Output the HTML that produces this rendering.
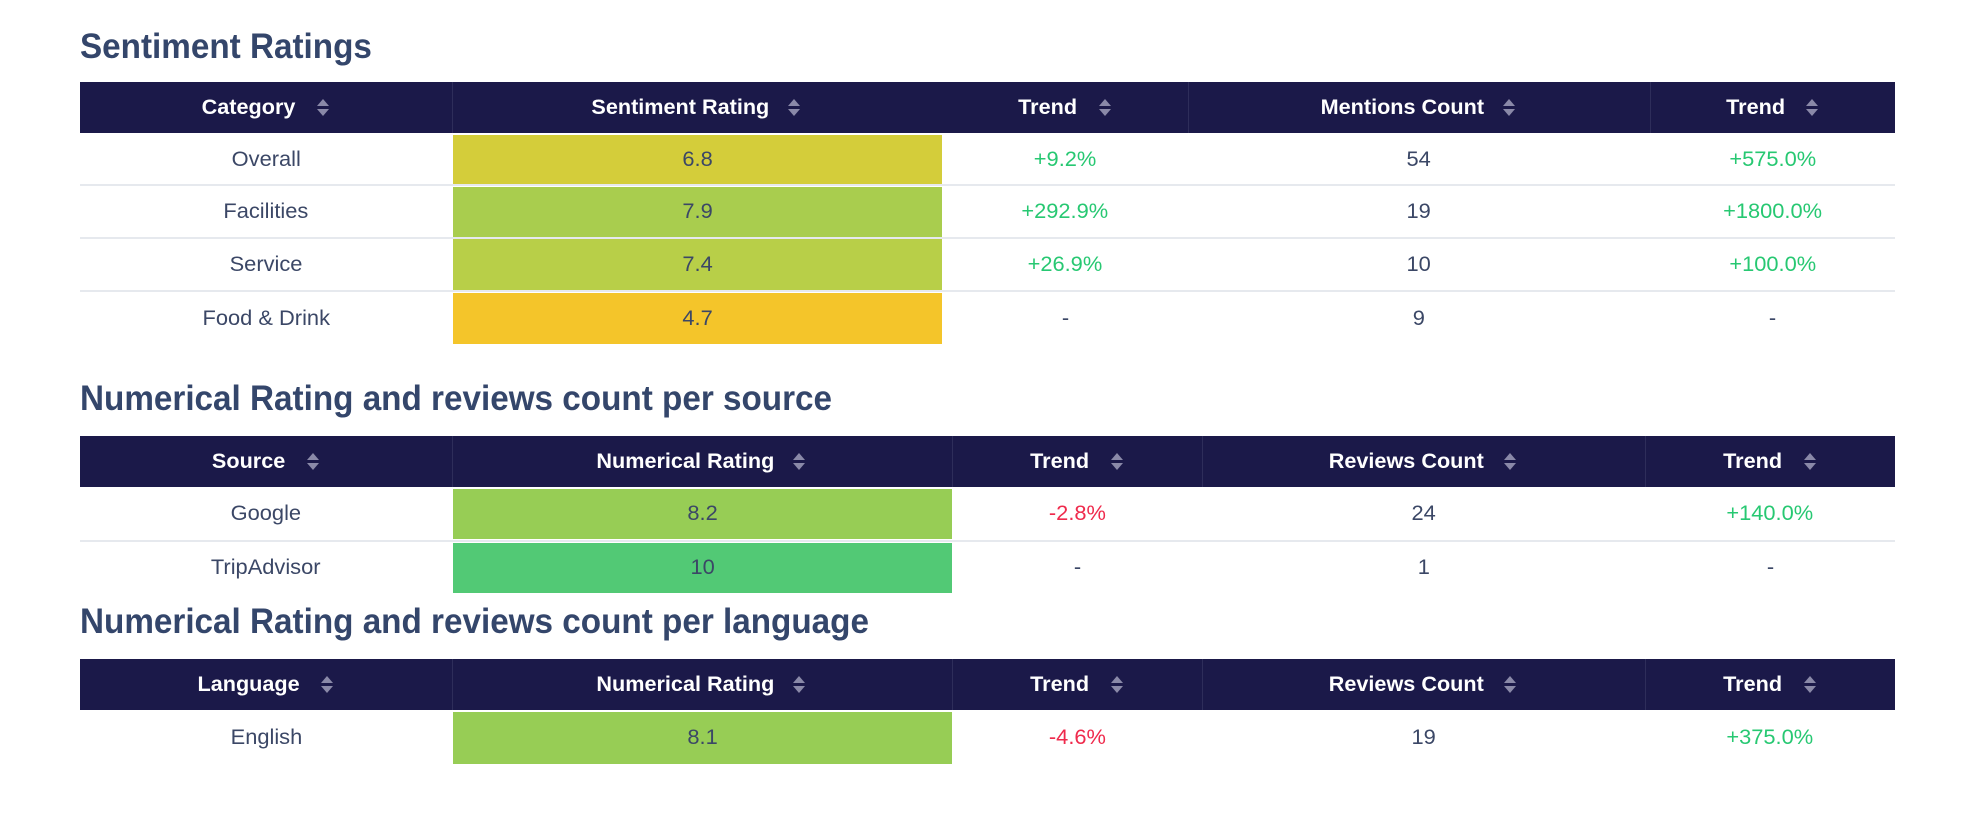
<!DOCTYPE html>
<html><head><meta charset="utf-8"><style>
body{margin:0;width:1970px;height:828px;background:#fff;font-family:"Liberation Sans",sans-serif;position:relative;overflow:hidden}
.t{position:absolute;left:80px;color:#34466b;font-weight:bold;font-size:35px;transform:scaleX(0.95);transform-origin:left;white-space:nowrap}
.hd{position:absolute;height:51px;background:#1b1949}
.c{position:absolute;display:flex;align-items:center;justify-content:center;font-size:21px;color:#3b4766;white-space:nowrap}
.c span{display:inline-block;transform:scaleX(1.04)}
.h{color:#fff;font-weight:bold;font-size:21px}
.h span{transform:scaleX(1.03)}
.ic{display:inline-block;width:12px;height:20px;margin-left:22px;position:relative}
.ic:before{content:"";position:absolute;left:0;top:1px;border-left:6px solid transparent;border-right:6px solid transparent;border-bottom:7px solid #8a89a8}
.ic:after{content:"";position:absolute;left:0;top:11px;border-left:6px solid transparent;border-right:6px solid transparent;border-top:7px solid #8a89a8}
.vl{position:absolute;width:1px;background:#2e2d5a}
.ln{position:absolute;height:2px;background:#e6e9ee;left:80px;width:1815px}
.g{color:#27c872}.r{color:#ef2a4c}
</style></head><body>

<div class="t" style="top:27px">Sentiment Ratings</div>
<div class="hd" style="left:80px;top:82px;width:1815px"></div>
<div class="vl" style="left:452px;top:82px;height:51px"></div>
<div class="vl" style="left:1188px;top:82px;height:51px"></div>
<div class="vl" style="left:1650px;top:82px;height:51px"></div>
<div class="c h" style="left:80px;width:372px;top:82px;height:51px"><span>Category</span><i class="ic"></i></div>
<div class="c h" style="left:452px;width:490px;top:82px;height:51px"><span>Sentiment Rating</span><i class="ic"></i></div>
<div class="c h" style="left:942px;width:246px;top:82px;height:51px"><span>Trend</span><i class="ic"></i></div>
<div class="c h" style="left:1188px;width:462px;top:82px;height:51px"><span>Mentions Count</span><i class="ic"></i></div>
<div class="c h" style="left:1650px;width:245px;top:82px;height:51px"><span>Trend</span><i class="ic"></i></div>

<div class="c" style="left:80px;width:372px;top:135px;height:50px"><span>Overall</span></div>
<div class="c" style="left:453px;width:489px;top:135px;height:50px;background:#d4cd3a"><span>6.8</span></div>
<div class="c g" style="left:942px;width:246px;top:135px;height:50px"><span>+9.2%</span></div>
<div class="c" style="left:1188px;width:462px;top:135px;height:50px"><span>54</span></div>
<div class="c g" style="left:1650px;width:245px;top:135px;height:50px"><span>+575.0%</span></div>
<div class="ln" style="top:184px"></div>
<div class="c" style="left:80px;width:372px;top:187px;height:50px"><span>Facilities</span></div>
<div class="c" style="left:453px;width:489px;top:187px;height:50px;background:#a9cd4e"><span>7.9</span></div>
<div class="c g" style="left:942px;width:246px;top:187px;height:50px"><span>+292.9%</span></div>
<div class="c" style="left:1188px;width:462px;top:187px;height:50px"><span>19</span></div>
<div class="c g" style="left:1650px;width:245px;top:187px;height:50px"><span>+1800.0%</span></div>
<div class="ln" style="top:237px"></div>
<div class="c" style="left:80px;width:372px;top:239px;height:51px"><span>Service</span></div>
<div class="c" style="left:453px;width:489px;top:239px;height:51px;background:#b8cf48"><span>7.4</span></div>
<div class="c g" style="left:942px;width:246px;top:239px;height:51px"><span>+26.9%</span></div>
<div class="c" style="left:1188px;width:462px;top:239px;height:51px"><span>10</span></div>
<div class="c g" style="left:1650px;width:245px;top:239px;height:51px"><span>+100.0%</span></div>
<div class="ln" style="top:290px"></div>
<div class="c" style="left:80px;width:372px;top:293px;height:51px"><span>Food &amp; Drink</span></div>
<div class="c" style="left:453px;width:489px;top:293px;height:51px;background:#f4c52a"><span>4.7</span></div>
<div class="c" style="left:942px;width:246px;top:293px;height:51px"><span>-</span></div>
<div class="c" style="left:1188px;width:462px;top:293px;height:51px"><span>9</span></div>
<div class="c" style="left:1650px;width:245px;top:293px;height:51px"><span>-</span></div>

<div class="t" style="top:379px">Numerical Rating and reviews count per source</div>
<div class="hd" style="left:80px;top:436px;width:1815px"></div>
<div class="vl" style="left:452px;top:436px;height:51px"></div>
<div class="vl" style="left:952px;top:436px;height:51px"></div>
<div class="vl" style="left:1202px;top:436px;height:51px"></div>
<div class="vl" style="left:1645px;top:436px;height:51px"></div>
<div class="c h" style="left:80px;width:372px;top:436px;height:51px"><span>Source</span><i class="ic"></i></div>
<div class="c h" style="left:452px;width:500px;top:436px;height:51px"><span>Numerical Rating</span><i class="ic"></i></div>
<div class="c h" style="left:952px;width:250px;top:436px;height:51px"><span>Trend</span><i class="ic"></i></div>
<div class="c h" style="left:1202px;width:443px;top:436px;height:51px"><span>Reviews Count</span><i class="ic"></i></div>
<div class="c h" style="left:1645px;width:250px;top:436px;height:51px"><span>Trend</span><i class="ic"></i></div>
<div class="c" style="left:80px;width:372px;top:489px;height:50px"><span>Google</span></div>
<div class="c" style="left:453px;width:499px;top:489px;height:50px;background:#97cd55"><span>8.2</span></div>
<div class="c r" style="left:952px;width:250px;top:489px;height:50px"><span>-2.8%</span></div>
<div class="c" style="left:1202px;width:443px;top:489px;height:50px"><span>24</span></div>
<div class="c g" style="left:1645px;width:250px;top:489px;height:50px"><span>+140.0%</span></div>
<div class="ln" style="top:540px"></div>
<div class="c" style="left:80px;width:372px;top:543px;height:50px"><span>TripAdvisor</span></div>
<div class="c" style="left:453px;width:499px;top:543px;height:50px;background:#52c975"><span>10</span></div>
<div class="c" style="left:952px;width:250px;top:543px;height:50px"><span>-</span></div>
<div class="c" style="left:1202px;width:443px;top:543px;height:50px"><span>1</span></div>
<div class="c" style="left:1645px;width:250px;top:543px;height:50px"><span>-</span></div>

<div class="t" style="top:602px">Numerical Rating and reviews count per language</div>
<div class="hd" style="left:80px;top:659px;width:1815px"></div>
<div class="vl" style="left:452px;top:659px;height:51px"></div>
<div class="vl" style="left:952px;top:659px;height:51px"></div>
<div class="vl" style="left:1202px;top:659px;height:51px"></div>
<div class="vl" style="left:1645px;top:659px;height:51px"></div>
<div class="c h" style="left:80px;width:372px;top:659px;height:51px"><span>Language</span><i class="ic"></i></div>
<div class="c h" style="left:452px;width:500px;top:659px;height:51px"><span>Numerical Rating</span><i class="ic"></i></div>
<div class="c h" style="left:952px;width:250px;top:659px;height:51px"><span>Trend</span><i class="ic"></i></div>
<div class="c h" style="left:1202px;width:443px;top:659px;height:51px"><span>Reviews Count</span><i class="ic"></i></div>
<div class="c h" style="left:1645px;width:250px;top:659px;height:51px"><span>Trend</span><i class="ic"></i></div>
<div class="c" style="left:80px;width:372px;top:712px;height:52px"><span>English</span></div>
<div class="c" style="left:453px;width:499px;top:712px;height:52px;background:#97cd55"><span>8.1</span></div>
<div class="c r" style="left:952px;width:250px;top:712px;height:52px"><span>-4.6%</span></div>
<div class="c" style="left:1202px;width:443px;top:712px;height:52px"><span>19</span></div>
<div class="c g" style="left:1645px;width:250px;top:712px;height:52px"><span>+375.0%</span></div>
</body></html>
